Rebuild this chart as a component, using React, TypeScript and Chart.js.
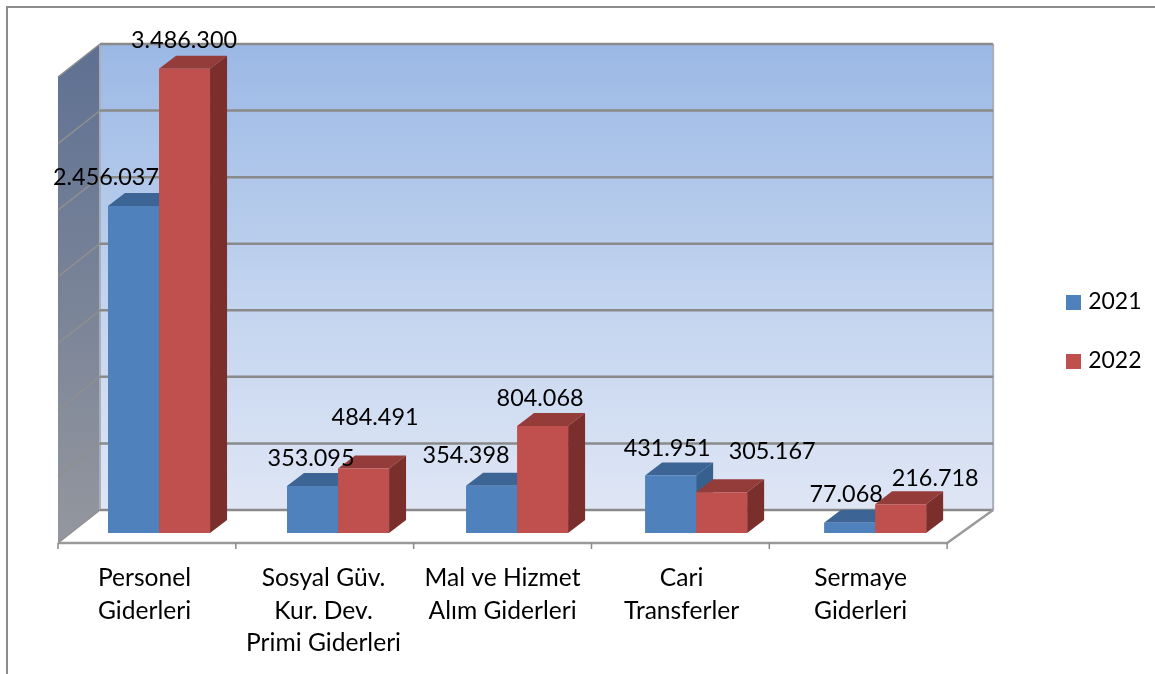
import React, { useEffect, useRef } from "react";
import { Chart, registerables } from "chart.js";

Chart.register(...registerables);

const categories = [
  ["Personel", "Giderleri"],
  ["Sosyal Güv.", "Kur. Dev.", "Primi Giderleri"],
  ["Mal ve Hizmet", "Alım Giderleri"],
  ["Cari", "Transferler"],
  ["Sermaye", "Giderleri"],
];
const seriesNames = ["2021", "2022"];
const values2021 = [2456037, 353095, 354398, 431951, 77068];
const values2022 = [3486300, 484491, 804068, 305167, 216718];

// Hand-placed data label offsets, as in the source chart (from bar top centre)
const labelOffsets2021 = [[-27.5, -29], [-1.5, -28], [-25.5, -30], [-3.5, -27.5], [-3.5, -28.7]];
const labelOffsets2022 = [[-0.5, -28], [11.5, -51.5], [-2.5, -27], [50.5, -41], [34.5, -26]];

const FONT = "Lato";
const FONT_SIZE = 23.4;
const AXIS_FONT_SIZE = 24.6;
const GRID = "#8a8a8a";
const faces = [
  { front: "#4F81BD", top: "#3C6494", side: "#38608E" },
  { front: "#C0504D", top: "#943C3A", side: "#7A2F2D" },
];
const DEPTH = { x: 17, y: 13 };
const fmt = (v: number) => String(v).replace(/\B(?=(\d{3})+$)/g, ".");

const swatch = (color: string) => {
  const c = document.createElement("canvas");
  c.width = 15;
  c.height = 15;
  const g = c.getContext("2d")!;
  g.fillStyle = color;
  g.fillRect(0, 0, 15, 15);
  return c;
};

const poly = (ctx: CanvasRenderingContext2D, pts: number[][], fill: any) => {
  ctx.beginPath();
  pts.forEach((p, i) => (i ? ctx.lineTo(p[0], p[1]) : ctx.moveTo(p[0], p[1])));
  ctx.closePath();
  ctx.fillStyle = fill;
  ctx.fill();
};
const line = (ctx: CanvasRenderingContext2D, a: number[], b: number[], color: string, w: number) => {
  ctx.beginPath();
  ctx.moveTo(a[0], a[1]);
  ctx.lineTo(b[0], b[1]);
  ctx.strokeStyle = color;
  ctx.lineWidth = w;
  ctx.stroke();
};

const scene3d = {
  id: "scene3d",
  afterLayout(chart: any) {
    const lg = chart.legend;
    if (lg) {
      lg.left += 69;
      lg.right += 69;
      lg.top -= 39;
      lg.bottom -= 39;
    }
  },
  beforeDraw(chart: any) {
    const { ctx, width, height } = chart;
    ctx.save();
    ctx.fillStyle = "#fff";
    ctx.fillRect(0, 0, width, height);
    ctx.beginPath();
    ctx.moveTo(7, height);
    ctx.lineTo(7, 7);
    ctx.lineTo(width, 7);
    ctx.strokeStyle = "#8c8c8c";
    ctx.lineWidth = 2;
    ctx.stroke();
    ctx.restore();
  },
  beforeDatasetsDraw(chart: any) {
    const { ctx, chartArea: a, scales } = chart;
    const y = scales.y;
    const fl = a.left - 11.5, fr = a.right - 17.5, fy = 10;
    const bl = a.left + 30.5, br = a.right + 28.5, by = -23;
    const top = a.top, bot = a.bottom;
    ctx.save();
    // back wall
    const wg = ctx.createLinearGradient(0, top + by, 0, bot + by);
    wg.addColorStop(0, "#9BB8E5");
    wg.addColorStop(0.5, "#BFD2EE");
    wg.addColorStop(1, "#DFE6F5");
    poly(ctx, [[bl, top + by], [br, top + by], [br, bot + by], [bl, bot + by]], wg);
    // left wall
    const sg = ctx.createLinearGradient(0, top + by, 0, bot + fy);
    sg.addColorStop(0, "#5E7092");
    sg.addColorStop(1, "#94979E");
    poly(ctx, [[fl, top + fy], [bl, top + by], [bl, bot + by], [fl, bot + fy]], sg);
    // wall edges
    line(ctx, [bl, top + by], [bl, bot + by], "#A9AEB8", 2);
    line(ctx, [br, top + by], [br, bot + by], "#A9AEB8", 2);
    // grid lines from the value scale
    y.ticks.forEach((t: any) => {
      const p = y.getPixelForValue(t.value);
      line(ctx, [fl, p + fy], [bl, p + by], "#8f8f8f", 1.5);
      line(ctx, [bl, p + by], [br, p + by], GRID, 2.5);
    });
    // floor
    line(ctx, [fr, bot + fy], [br, bot + by], "#9a9a9a", 2.5);
    line(ctx, [fl, bot + fy], [fr, bot + fy], "#9a9a9a", 2.5);
    // category ticks
    const n = categories.length;
    for (let i = 0; i <= n; i++) {
      const x = fl + ((fr - fl) * i) / n;
      line(ctx, [x, bot + fy], [x, bot + fy + 6], "#8a8a8a", 1.5);
    }
    // bar extrusions
    [0, 1].forEach((ds) => {
      chart.getDatasetMeta(ds).data.forEach((bar: any) => {
        const { x, y: ty, base, width: w } = bar.getProps(["x", "y", "base", "width"], true);
        const l = x - w / 2, r = x + w / 2;
        poly(ctx, [[l, ty], [l + DEPTH.x, ty - DEPTH.y], [r + DEPTH.x, ty - DEPTH.y], [r, ty]], faces[ds].top);
        poly(ctx, [[r, ty], [r + DEPTH.x, ty - DEPTH.y], [r + DEPTH.x, base - DEPTH.y], [r, base]], faces[ds].side);
      });
    });
    ctx.restore();
  },
  afterDatasetsDraw(chart: any) {
    const { ctx } = chart;
    ctx.save();
    ctx.font = `${FONT_SIZE}px ${FONT}`;
    ctx.fillStyle = "#000";
    ctx.textAlign = "center";
    ctx.textBaseline = "middle";
    [labelOffsets2021, labelOffsets2022].forEach((off, ds) => {
      const vals = chart.data.datasets[ds].data;
      chart.getDatasetMeta(ds).data.forEach((bar: any, i: number) => {
        const { x, y } = bar.getProps(["x", "y"], true);
        ctx.fillText(fmt(vals[i]), x + off[i][0], y + off[i][1]);
      });
    });
    ctx.restore();
  },
};

export default function App() {
  const ref = useRef<HTMLCanvasElement>(null);
  useEffect(() => {
    document.body.style.margin = "0";
    const chart = new Chart(ref.current!, {
      type: "bar",
      data: {
        labels: categories,
        datasets: [
          { label: seriesNames[0], data: values2021, backgroundColor: faces[0].front, barPercentage: 1, categoryPercentage: 0.57 },
          { label: seriesNames[1], data: values2022, backgroundColor: faces[1].front, barPercentage: 1, categoryPercentage: 0.57 },
        ],
      },
      options: {
        responsive: false,
        animation: false,
        layout: { padding: { left: 69.5, right: 72.5, top: 67, bottom: 0 } },
        plugins: {
          tooltip: { enabled: false },
          legend: {
            position: "right",
            labels: {
              usePointStyle: true,
              pointStyleWidth: 7,
              boxHeight: 15,
              padding: 36,
              color: "#000",
              font: { family: FONT, size: 23 },
              generateLabels(c: any) {
                return Chart.defaults.plugins.legend.labels.generateLabels(c).map((item: any, i: number) => ({
                  ...item,
                  pointStyle: swatch(faces[i].front),
                }));
              },
            },
          },
        },
        scales: {
          x: {
            grid: { display: false, drawTicks: false },
            border: { display: false },
            afterFit(s: any) {
              s.height = 141;
            },
            ticks: {
              color: "#000",
              autoSkip: false,
              maxRotation: 0,
              padding: 29,
              labelOffset: -14.5,
              font: { family: FONT, size: AXIS_FONT_SIZE, lineHeight: 1.32 },
            },
          },
          y: {
            display: false,
            min: 0,
            max: 3500000,
            ticks: { stepSize: 500000 },
          },
        },
      },
      plugins: [scene3d],
    } as any);
    return () => chart.destroy();
  }, []);
  return <canvas ref={ref} width={1155} height={674} style={{ display: "block" }} />;
}
